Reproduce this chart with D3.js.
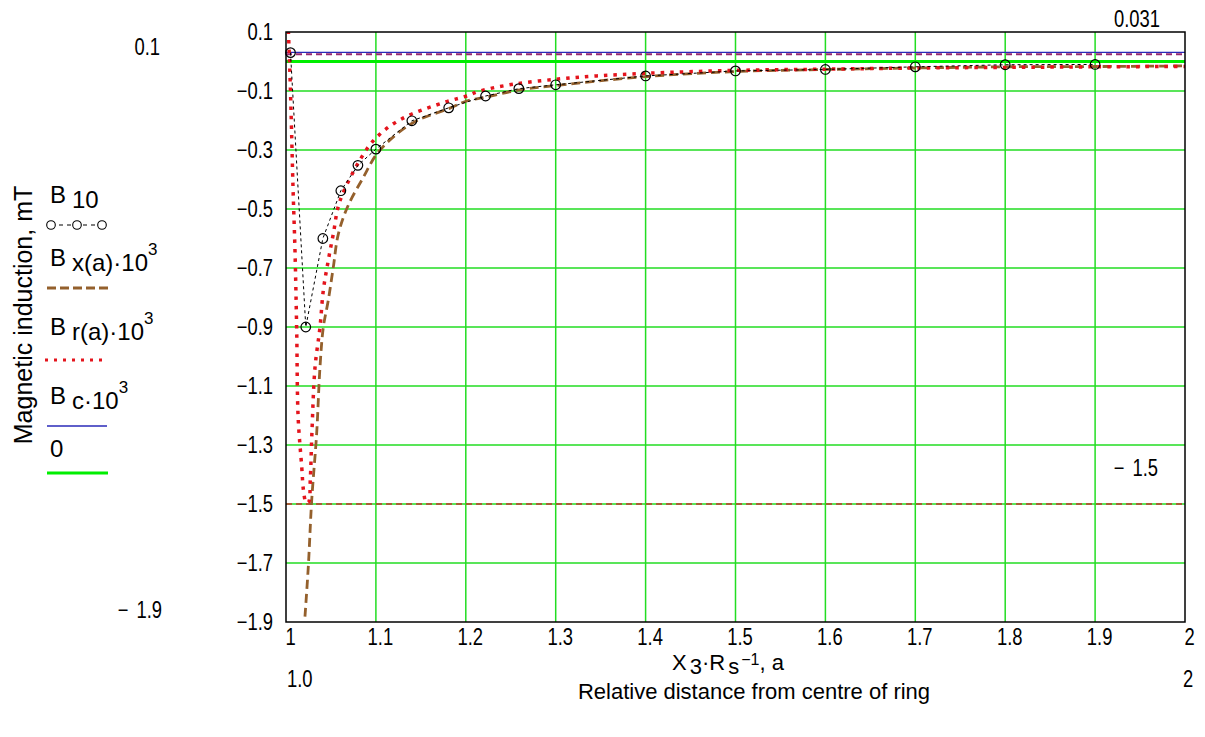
<!DOCTYPE html>
<html>
<head>
<meta charset="utf-8">
<script src="https://cdn.jsdelivr.net/npm/d3@7"></script>
<style>
body { margin: 0; background: #fff; }
svg text { font-family: "Liberation Sans", Arial, sans-serif; fill: #000; }
</style>
</head>
<body>
<svg id="chart" width="1205" height="737"></svg>
<script>
// tick values
const xTicks = [1, 1.1, 1.2, 1.3, 1.4, 1.5, 1.6, 1.7, 1.8, 1.9, 2];
const yTicks = [0.1, -0.1, -0.3, -0.5, -0.7, -0.9, -1.1, -1.3, -1.5, -1.7, -1.9];

// B10 measured points
const b10X = [1.005, 1.022, 1.041, 1.061, 1.080, 1.100, 1.140, 1.181, 1.222, 1.259, 1.300, 1.400, 1.500, 1.600, 1.700, 1.800, 1.900];
const b10Y = [0.030, -0.900, -0.600, -0.438, -0.352, -0.297, -0.201, -0.157, -0.117, -0.092, -0.079, -0.049, -0.032, -0.027, -0.018, -0.011, -0.010];

// Bx(a)*10^3
const bxX = [1.0211, 1.0248, 1.0286, 1.0341, 1.0378, 1.0415, 1.047, 1.0526, 1.0582, 1.069, 1.086, 1.1009, 1.1231, 1.1454, 1.1824, 1.201, 1.2232, 1.2603, 1.3011, 1.4012, 1.5013, 1.6014, 1.7008, 1.8009, 1.901, 2.0];
const bxY = [-1.882, -1.713, -1.487, -1.261, -1.036, -0.901, -0.81, -0.698, -0.585, -0.489, -0.393, -0.314, -0.246, -0.201, -0.158, -0.134, -0.12, -0.096, -0.081, -0.051, -0.034, -0.027, -0.022, -0.018, -0.017, -0.015];

// Br(a)*10^3
const brX = [1.0022, 1.0039, 1.0056, 1.0078, 1.010, 1.0119, 1.0135, 1.0175, 1.0195, 1.0225, 1.0252, 1.0270, 1.0288, 1.0323, 1.0378, 1.0415, 1.047, 1.0526, 1.0601, 1.0898, 1.1046, 1.12, 1.14, 1.1788, 1.201, 1.2158, 1.2528, 1.3011, 1.3456, 1.4012, 1.5013, 1.6014, 1.70, 1.80, 1.90, 2.0];
const brY = [0.137, 0.002, -0.167, -0.428, -0.641, -0.912, -1.206, -1.374, -1.455, -1.496, -1.493, -1.419, -1.261, -1.036, -0.901, -0.776, -0.675, -0.585, -0.472, -0.297, -0.246, -0.21, -0.178, -0.136, -0.117, -0.1, -0.077, -0.06, -0.049, -0.04, -0.03, -0.026, -0.022, -0.02, -0.018, -0.017];

const bc = 0.031;
const zeroVal = 0;
const markerTop = 0.031, markerBottom = -1.5;
const xLimitLabels = ["1.0", "2"];
const yLimitLabels = ["0.1", "1.9"];

const svg = d3.select("#chart");
const x = d3.scaleLinear().domain([1, 2]).range([286, 1185]);
const y = d3.scaleLinear().domain([-1.9, 0.1]).range([622, 32]);
const [x0, x1] = x.range();
const [y0, y1] = y.range();
const fmt = d => (d < 0 ? "\u2212" : "") + Math.abs(d);
const narrow = 0.8;
const numSize = 23;

svg.append("defs").append("clipPath").attr("id", "plot")
  .append("rect").attr("x", x0).attr("y", y1).attr("width", x1 - x0).attr("height", y0 - y1);

// grid
const grid = svg.append("g").attr("stroke", "#22dd22").attr("stroke-width", 1.5);
grid.selectAll(".gx").data(xTicks.slice(1, -1)).join("line")
  .attr("x1", d => x(d)).attr("x2", d => x(d)).attr("y1", y1).attr("y2", y0);
grid.selectAll(".gy").data(yTicks.slice(1, -1)).join("line")
  .attr("x1", x0).attr("x2", x1).attr("y1", d => y(d)).attr("y2", d => y(d));

// axes (labels only)
const xAxis = svg.append("g").attr("transform", `translate(4,${y0})`)
  .call(d3.axisBottom(x).tickValues(xTicks).tickFormat(fmt).tickSize(0).tickPadding(7));
const yAxis = svg.append("g").attr("transform", `translate(${x0},0)`)
  .call(d3.axisLeft(y).tickValues(yTicks).tickFormat(fmt).tickSize(0).tickPadding(13 / narrow));
[xAxis, yAxis].forEach(a => {
  a.select(".domain").remove();
  a.selectAll("text").attr("font-size", numSize).attr("font-family", "Liberation Sans, Arial, sans-serif")
    .attr("fill", "#000").attr("transform", `scale(${narrow},1)`);
});

const plot = svg.append("g").attr("clip-path", "url(#plot)");
const line = d3.line().x(d => x(d[0])).y(d => y(d[1]));
const smooth = d3.line().x(d => x(d[0])).y(d => y(d[1])).curve(d3.curveCatmullRom.alpha(0.5));

// zero line
plot.append("line").attr("x1", x0).attr("x2", x1).attr("y1", y(zeroVal)).attr("y2", y(zeroVal))
  .attr("stroke", "#00ee00").attr("stroke-width", 3);
// markers
plot.append("line").attr("x1", x0).attr("x2", x1).attr("y1", y(markerTop) + 2).attr("y2", y(markerTop) + 2)
  .attr("stroke", "#9a2a70").attr("stroke-width", 2).attr("stroke-dasharray", "6,4");
plot.append("line").attr("x1", x0).attr("x2", x1).attr("y1", y(markerBottom)).attr("y2", y(markerBottom))
  .attr("stroke", "#c0302a").attr("stroke-width", 1.5).attr("stroke-dasharray", "6,4");
// Bc
plot.append("line").attr("x1", x0).attr("x2", x1).attr("y1", y(bc)).attr("y2", y(bc))
  .attr("stroke", "#2a2ab8").attr("stroke-width", 1.3);

// Bx
plot.append("path").datum(d3.zip(bxX, bxY)).attr("d", smooth)
  .attr("fill", "none").attr("stroke", "#94602c").attr("stroke-width", 2.8).attr("stroke-dasharray", "9,5");
// Br
plot.append("path").datum(d3.zip(brX, brY)).attr("d", smooth)
  .attr("fill", "none").attr("stroke", "#e4141c").attr("stroke-width", 3.5).attr("stroke-dasharray", "3.5,6");
// B10
plot.append("path").datum(d3.zip(b10X, b10Y)).attr("d", line)
  .attr("fill", "none").attr("stroke", "#000").attr("stroke-width", 1).attr("stroke-dasharray", "3,3");
svg.append("g").selectAll("circle").data(d3.zip(b10X, b10Y)).join("circle")
  .attr("cx", d => x(d[0])).attr("cy", d => y(d[1])).attr("r", 4.8)
  .attr("fill", "none").attr("stroke", "#000").attr("stroke-width", 1.2);

// frame
svg.append("rect").attr("x", x0).attr("y", y1).attr("width", x1 - x0).attr("height", y0 - y1)
  .attr("fill", "none").attr("stroke", "#000").attr("stroke-width", 1.5);

// limit and marker labels
const num = (tx, ty, s, anchor) => svg.append("text")
  .attr("transform", `translate(${tx},${ty}) scale(${narrow},1)`)
  .attr("text-anchor", anchor || "start").attr("font-size", numSize).text(s);
const neg = (tx, ty, s) => {
  const t = num(tx, ty, "\u2212", "end");
  t.append("tspan").attr("dx", 10).text(s);
};
num(160, y(0.1) + 23, yLimitLabels[0], "end");
neg(162, y(-1.9) - 4, yLimitLabels[1]);
num(287, 687, xLimitLabels[0]);
num(x1 + 3, 687, xLimitLabels[1], "middle");
num(1160, y(markerTop) - 25, String(markerTop), "end");
neg(1158, y(markerBottom) - 28, String(Math.abs(markerBottom)));

// axis titles
svg.append("text").attr("transform", "translate(32,315) rotate(-90)")
  .attr("text-anchor", "middle").attr("font-size", 25).text("Magnetic induction, mT");
const xt = svg.append("text").attr("x", 672).attr("y", 670).attr("font-size", 22);
xt.append("tspan").text("X");
xt.append("tspan").attr("dx", 3).attr("dy", 4).text("3");
xt.append("tspan").attr("dy", -4).text("\u00b7R");
xt.append("tspan").attr("dx", 3).attr("dy", 4).text("s");
xt.append("tspan").attr("dx", 2).attr("dy", -9).attr("font-size", 16).text("\u22121");
xt.append("tspan").attr("dy", 5).text(", a");
svg.append("text").attr("x", 754).attr("y", 699).attr("text-anchor", "middle")
  .attr("font-size", 22).text("Relative distance from centre of ring");

// legend
const lg = svg.append("g");
const legSize = 24;
const entry = (by, sub, sup) => {
  const t = lg.append("text").attr("x", 50).attr("y", by).attr("font-size", legSize);
  t.append("tspan").text("B");
  t.append("tspan").attr("dx", 6).attr("dy", 5).text(sub);
  if (sup) t.append("tspan").attr("dy", -16).attr("font-size", 17).text(sup);
};
entry(203, "10");
lg.append("line").attr("x1", 51).attr("x2", 102).attr("y1", 225).attr("y2", 225)
  .attr("stroke", "#000").attr("stroke-dasharray", "4,4").attr("stroke-width", 1);
lg.selectAll("circle").data([51, 77, 102]).join("circle")
  .attr("cx", d => d).attr("cy", 225).attr("r", 4.3)
  .attr("fill", "#fff").attr("stroke", "#000").attr("stroke-width", 1.1);
entry(266, "x(a)\u00b710", "3");
lg.append("line").attr("x1", 47).attr("x2", 108).attr("y1", 288).attr("y2", 288)
  .attr("stroke", "#94602c").attr("stroke-width", 2.8).attr("stroke-dasharray", "9,4");
entry(335, "r(a)\u00b710", "3");
lg.append("line").attr("x1", 45).attr("x2", 102).attr("y1", 360).attr("y2", 360)
  .attr("stroke", "#e4141c").attr("stroke-width", 3).attr("stroke-dasharray", "3,6");
entry(404, "c\u00b710", "3");
lg.append("line").attr("x1", 47).attr("x2", 107).attr("y1", 426).attr("y2", 426)
  .attr("stroke", "#2a2ab8").attr("stroke-width", 1.3);
lg.append("text").attr("x", 50).attr("y", 457).attr("font-size", legSize).text("0");
lg.append("line").attr("x1", 47).attr("x2", 108).attr("y1", 473).attr("y2", 473)
  .attr("stroke", "#00ee00").attr("stroke-width", 3);
</script>
</body>
</html>
